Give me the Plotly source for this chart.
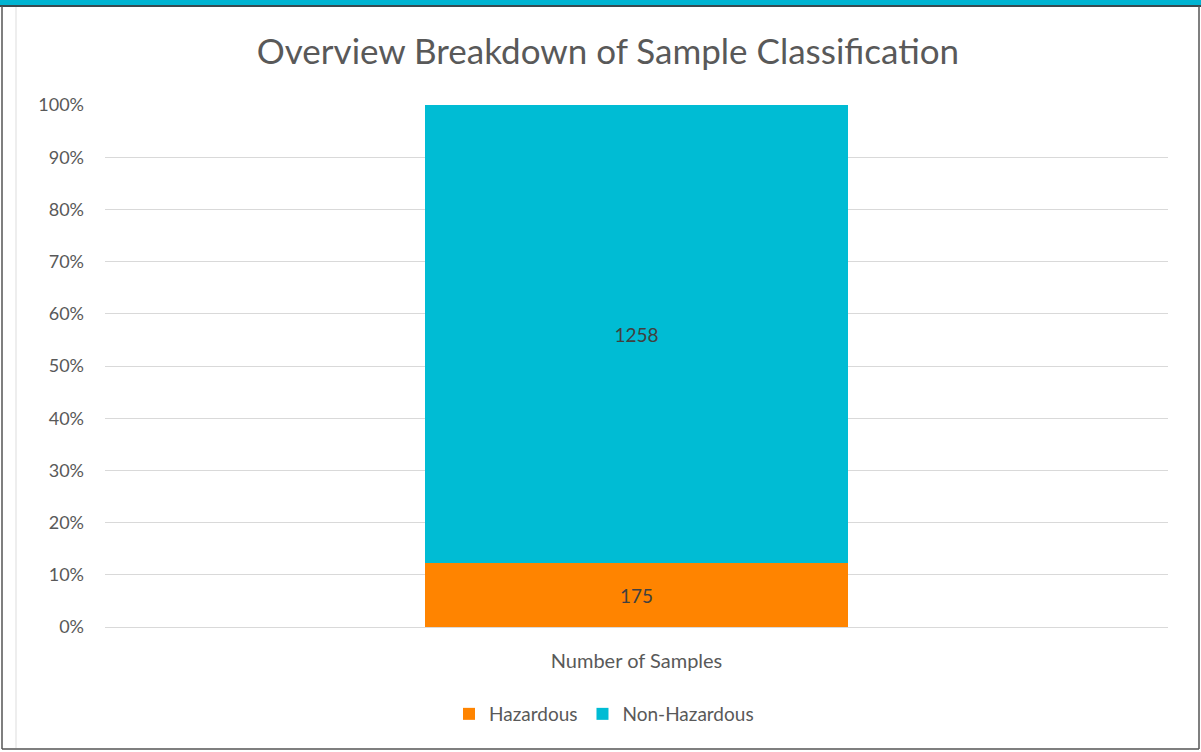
import plotly.graph_objects as go

# Sample classification counts
categories = ["Number of Samples"]
series_names = ["Hazardous", "Non-Hazardous"]
hazardous = [175]
non_hazardous = [1258]
y_tickvals = [0, 10, 20, 30, 40, 50, 60, 70, 80, 90, 100]
y_ticktext = ["0%", "10%", "20%", "30%", "40%", "50%", "60%", "70%", "80%", "90%", "100%"]

ORANGE = "#FF8400"
TEAL = "#00BCD4"
FONT = "Lato, 'Open Sans', sans-serif"

W, H = 1201, 752
L, R, T, B = 105, 33, 105, 125
PW, PH = W - L - R, H - T - B


def px_x(px):
    return (px - L) / PW


def px_y(py):
    return (H - B - py) / PH


fig = go.Figure()
for name, vals, color in [(series_names[0], hazardous, ORANGE),
                          (series_names[1], non_hazardous, TEAL)]:
    fig.add_trace(go.Bar(
        x=categories, y=vals, name=name,
        marker=dict(color=color, line=dict(width=0)),
        text=[str(v) for v in vals], textposition="inside",
        insidetextanchor="middle", textangle=0,
        textfont=dict(family=FONT, size=19, color="#404040"),
        width=0.398,
    ))

shapes = [
    # teal header band and frame
    dict(type="rect", xref="paper", yref="paper", x0=px_x(0), x1=px_x(W),
         y0=px_y(5), y1=px_y(0), fillcolor="#00B4D2", line=dict(width=0), layer="above"),
    dict(type="line", xref="paper", yref="paper", x0=px_x(0), x1=px_x(W),
         y0=px_y(6), y1=px_y(6), line=dict(color="#3a4a50", width=2)),
    dict(type="line", xref="paper", yref="paper", x0=px_x(2), x1=px_x(2),
         y0=px_y(749), y1=px_y(6), line=dict(color="#555555", width=1.5)),
    dict(type="line", xref="paper", yref="paper", x0=px_x(16), x1=px_x(16),
         y0=px_y(748), y1=px_y(7), line=dict(color="#dddddd", width=1)),
    dict(type="line", xref="paper", yref="paper", x0=px_x(1199), x1=px_x(1199),
         y0=px_y(749), y1=px_y(6), line=dict(color="#555555", width=1.5)),
    dict(type="line", xref="paper", yref="paper", x0=px_x(2), x1=px_x(1199),
         y0=px_y(749), y1=px_y(749), line=dict(color="#555555", width=1.5)),
]

fig.update_layout(
    width=W, height=H,
    margin=dict(l=L, r=R, t=T, b=B),
    paper_bgcolor="white", plot_bgcolor="white",
    barmode="stack", barnorm="percent",
    title=dict(text="Overview Breakdown of Sample Classification",
               x=608 / W, xref="container", xanchor="center",
               y=1 - 52 / H, yanchor="middle",
               font=dict(family=FONT, size=35, color="#595959")),
    font=dict(family=FONT, color="#595959"),
    showlegend=True,
    legend=dict(orientation="h", x=px_x(604), xanchor="center",
                y=px_y(714), yanchor="middle",
                font=dict(family=FONT, size=19, color="#595959"),
                itemwidth=30, traceorder="normal"),
    xaxis=dict(range=[-0.5, 0.5], showgrid=False, showline=False, zeroline=False,
               ticks="outside", ticklen=16, tickcolor="rgba(0,0,0,0)",
               tickfont=dict(family=FONT, size=20, color="#595959")),
    yaxis=dict(range=[0, 100], tickvals=y_tickvals, ticktext=y_ticktext,
               showgrid=True, gridcolor="#d9d9d9", gridwidth=1,
               zeroline=True, zerolinecolor="#d9d9d9", zerolinewidth=1,
               showline=False, ticklabelstandoff=20,
               tickfont=dict(family=FONT, size=18, color="#595959")),
    shapes=shapes,
)

fig.write_html("out.html")
